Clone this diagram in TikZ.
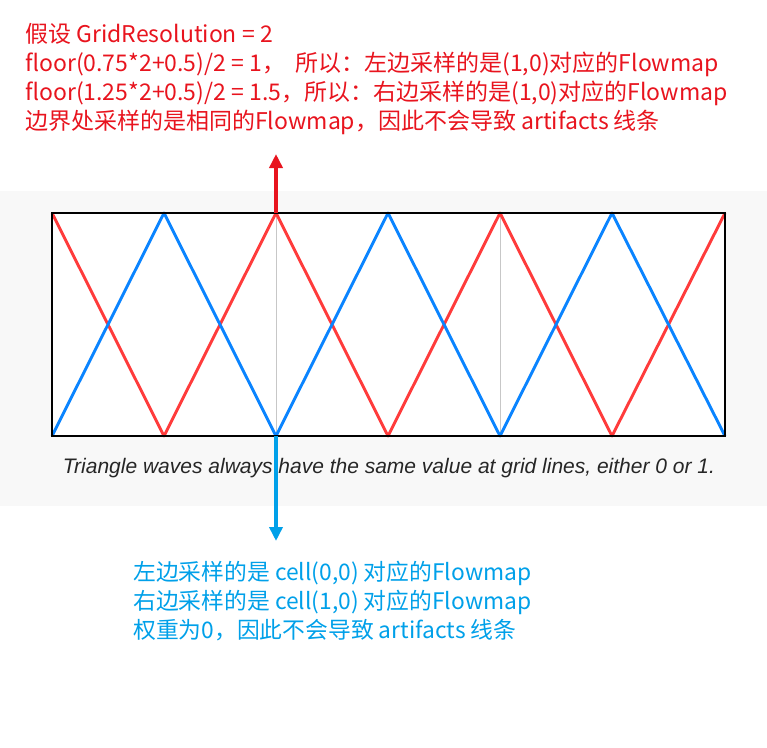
\documentclass[tikz,border=0pt]{standalone}
\usepackage{fontspec}
\setmainfont{Liberation Sans}
\newfontfamily\cjk{Noto Sans CJK SC}
\usetikzlibrary{arrows.meta, positioning}
\definecolor{WaveRed}{HTML}{FF3B3B}
\definecolor{WaveBlue}{HTML}{0A84FF}
\definecolor{NoteRed}{HTML}{E8141E}
\definecolor{NoteBlue}{HTML}{00A0E9}
\definecolor{BandGray}{HTML}{F8F8F8}
\tikzset{
  >=Triangle,
  % Onde triangolari
  wave red/.style={WaveRed,line width=2.9pt,line join=round},
  wave blue/.style={WaveBlue,line width=2.9pt,line join=round},
  grid line/.style={black!22,line width=0.8pt},
  frame/.style={draw=black,line width=1.3pt},
  % Note (ancorate alla linea di base dell'ultima riga)
  note/.style={align=left,inner sep=0pt,anchor=base west},
  note red/.style={note,NoteRed,font=\cjk\fontsize{23}{29}\selectfont},
  note blue/.style={note,NoteBlue,font=\cjk\fontsize{22.8}{29}\selectfont},
  caption/.style={inner sep=0pt,anchor=base,text=black!85,font=\itshape\fontsize{21}{24}\selectfont},
  % Frecce
  pointer red/.style={-{Triangle[length=14pt,width=13pt]},NoteRed,line width=4pt},
  pointer blue/.style={-{Triangle[length=14pt,width=13pt]},NoteBlue,line width=4pt}
}
\begin{document}
\begin{tikzpicture}[x=1pt,y=-1pt]
  \useasboundingbox (0,0) rectangle (767,747);
  % fascia grigia
  \fill[BandGray] (0,191) rectangle (767,506);
  \fill[white] (52,213) rectangle (725,436);
  % linee della griglia
  \foreach \gx in {276,500}
    \draw[grid line] (\gx,213) -- (\gx,436);
  % onde
  \draw[wave red] (52,213) -- (164,436) -- (276,213) -- (388,436)
    -- (500,213) -- (612,436) -- (725,213);
  \draw[wave blue] (52,436) -- (164,213) -- (276,436) -- (388,213)
    -- (500,436) -- (612,213) -- (725,436);
  \draw[frame] (52,213) rectangle (725,436);
  \node[caption] (cap) at (389,473)
    {Triangle waves always have the same value at grid lines, either 0 or 1.};
  % note
  \node[note red] (top note) at (25,129)
    {假设 GridResolution = 2\\
     floor(0.75*2+0.5)/2 = 1，\ \ 所以：左边采样的是(1,0)对应的Flowmap\\
     floor(1.25*2+0.5)/2 = 1.5，所以：右边采样的是(1,0)对应的Flowmap\\
     边界处采样的是相同的Flowmap，因此不会导致 artifacts 线条};
  \node[note blue] (bottom note) at (133,638)
    {左边采样的是 cell(0,0) 对应的Flowmap\\
     右边采样的是 cell(1,0) 对应的Flowmap\\
     权重为0，因此不会导致 artifacts 线条};
  % frecce
  \coordinate (red start) at (276,213);
  \coordinate (red tip) at (276,154);
  \coordinate (blue start) at (276,436);
  \coordinate (blue tip) at (276,541);
  \draw[pointer red] (red start) -- (red tip);
  \draw[pointer blue] (blue start) -- (blue tip);
\end{tikzpicture}
\end{document}
